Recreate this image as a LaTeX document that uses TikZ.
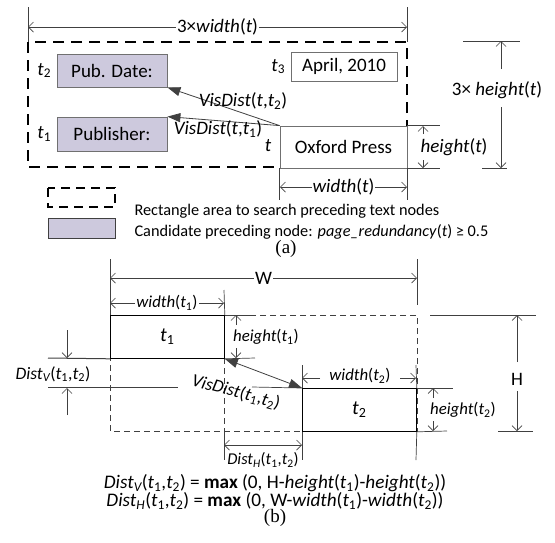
\documentclass[tikz,border=0pt]{standalone}
\usepackage{fontspec}
\setmainfont{Carlito}
\newfontfamily\captionfont{Liberation Serif}
\usetikzlibrary{arrows.meta}

\definecolor{lineColour}{HTML}{404040}
\definecolor{borderColour}{HTML}{707070}
\definecolor{fillColour}{HTML}{CDC9DD}

\newcommand{\tn}[1]{\textit{t}\textsubscript{#1}}

\tikzset{
  dim/.style={draw=lineColour, line width=0.7pt},
  dimarrow/.style={dim, {Straight Barb[length=5pt,width=10pt]}-{Straight Barb[length=5pt,width=10pt]}},
  dimtip/.style={dim, -{Straight Barb[length=5pt,width=10pt]}},
  dimlabel/.style={fill=white, inner sep=1pt},
  searchrect/.style={draw=black, line width=1.6pt, dash pattern=on 11pt off 7pt},
  arearect/.style={draw=lineColour, line width=0.7pt, dash pattern=on 6pt off 4pt},
  textbox/.style={draw=borderColour, line width=0.8pt, inner sep=0pt, fill=white},
  candidate/.style={textbox, fill=fillColour},
  plainbox/.style={draw=black, line width=0.8pt, inner sep=0pt},
  visarrow/.style={draw=lineColour, line width=0.8pt, -{Triangle[length=13pt,width=9pt]}},
  visboth/.style={draw=lineColour, line width=0.8pt, {Triangle[length=13pt,width=9pt]}-{Triangle[length=13pt,width=9pt]}},
}

\begin{document}
\begin{tikzpicture}[x=1pt, y=-1pt, font=\fontsize{19}{21}\selectfont]
    \useasboundingbox (0,0) rectangle (555,542);

    % ---------- (a) ----------
    % Search area: 3 x width by 3 x height
    \draw[searchrect] (28,42) rectangle (407,167);

    \node[candidate, minimum width=110pt, minimum height=33pt] (date) at (112,70.5) {Pub. Date:};
    \node[candidate, minimum width=110pt, minimum height=34pt] (publisher) at (112,134) {Publisher:};
    \node[textbox, minimum width=106pt, minimum height=29pt] (april) at (344,66.5) {April, 2010};
    \node[textbox, minimum width=127pt, minimum height=42pt] (oxford) at (343.5,147) {Oxford Press};

    \node[left=2pt] at (date.west) {\tn{2}};
    \node[left=2pt] at (publisher.west) {\tn{1}};
    \node[left=2pt] at (april.west) {\tn{3}};
    \node at (268,146) {\textit{t}};

    \draw[visarrow] (oxford.north west) -- (date.south east);
    \draw[visarrow] (oxford.north west) -- (publisher.north east);
    \node at (243,101) {\textit{VisDist}(\textit{t},\tn{2})};
    \node at (218,129) {\textit{VisDist}(\textit{t},\tn{1})};

    % 3 x width(t)
    \coordinate (wl) at (28,27);
    \coordinate (wr) at (407,27);
    \draw[dim] (28,7) -- (28,42);
    \draw[dim] (407,7) -- (407,42);
    \draw[dimarrow] (wl) -- node[dimlabel] {3×\textit{width}(\textit{t})} (wr);

    % width(t)
    \draw[dim] (oxford.south west) -- ++(0,32);
    \draw[dim] (oxford.south east) -- ++(0,32);
    \coordinate (owl) at (280,187);
    \coordinate (owr) at (407,187);
    \draw[dimarrow] (owl) -- node[dimlabel] {\textit{width}(\textit{t})} (owr);

    % height(t)
    \draw[dim] (oxford.north east) -- ++(33,0);
    \draw[dim] (oxford.south east) -- ++(33,0);
    \node (oh) at (454,147) {\textit{height}(\textit{t})};
    \draw[dimtip] (423,134) -- (423,126);
    \draw[dimtip] (423,160) -- (423,168);

    % 3 x height(t)
    \draw[dim] (463,41) -- (520,41);
    \draw[dim] (482,168) -- (507,168);
    \node (th) at (497,90) {3× \textit{height}(\textit{t})};
    \draw[dimtip] (501,69) -- (501,41);
    \draw[dimtip] (501,107) -- (501,168);

    % Legend
    \draw[searchrect, line width=1.3pt, dash pattern=on 9pt off 6pt] (48,188) rectangle (115,207);
    \draw[draw=black!75, line width=0.8pt, fill=fillColour] (48,218) rectangle (115,238);
    \node[anchor=west, font=\fontsize{16.3}{18}\selectfont] at (131,211) {Rectangle area to search preceding text nodes};
    \node[anchor=west, font=\fontsize{16.3}{18}\selectfont] at (131,232) {Candidate preceding node: \textit{page\_redundancy}(\textit{t}) ≥ 0.5};
    \node[font=\captionfont\fontsize{19}{21}\selectfont] at (286,249) {(a)};

    % ---------- (b) ----------
    \begin{scope}[font=\fontsize{16.8}{18}\selectfont]
    % Area spanned by both nodes
    \draw[arearect] (110,315) rectangle (417,431);
    \draw[arearect] (224,358) -- (224,431);

    \node[plainbox, fill=white, minimum width=114pt, minimum height=43pt, anchor=north west,
          font=\fontsize{20}{22}\selectfont] (t1) at (110,315) {\tn{1}};
    \node[plainbox, fill=white, minimum width=114pt, minimum height=43pt, anchor=north west,
          font=\fontsize{20}{22}\selectfont] (t2) at (302,388) {\tn{2}};

    % W
    \draw[dim] (110,259) -- (t1.north west);
    \draw[dim] (417,259) -- (417,305);
    \coordinate (Wl) at (110,278);
    \coordinate (Wr) at (417,278);
    \draw[dimarrow] (Wl) -- node[dimlabel, font=\fontsize{19}{21}\selectfont] {W} (Wr);

    % width(t1)
    \draw[dim] (224,290) -- (t1.north east);
    \coordinate (w1l) at (110,303);
    \coordinate (w1r) at (224,303);
    \draw[dimarrow] (w1l) -- node[dimlabel] {\textit{width}(\tn{1})} (w1r);

    % height(t1)
    \draw[dim] (t1.north east) -- (255,315);
    \draw[dim] (t1.south east) -- (255,358);
    \node at (266,337) {\textit{height}(\tn{1})};
    \draw[dimtip] (236,325) -- (236,315);
    \draw[dimtip] (236,348) -- (236,358);

    % Dist_V
    \draw[dim, line width=1pt] (48,358) -- (t1.south west);
    \draw[dim] (48,387) -- (178,387);
    \draw[dim] (252,387) -- (t2.north west);
    \node[font=\fontsize{17.5}{19}\selectfont] at (53,374) {\textit{Dist\textsubscript{V}}(\tn{1},\tn{2})};
    \draw[dimtip] (67,330) -- (67,358);
    \draw[dimtip] (67,415) -- (67,388);

    % VisDist(t1,t2)
    \draw[visboth] (t1.south east) -- (t2.north west);
    \node[rotate=-15, font=\fontsize{18}{20}\selectfont] at (236,392) {\textit{VisDist}(\tn{1},\tn{2})};

    % width(t2)
    \draw[dim] (302,365) -- (t2.north west);
    \draw[dim] (416,365) -- (t2.north east);
    \node at (360,376) {\textit{width}(\tn{2})};
    \draw[dimtip] (320,378) -- (302,378);
    \draw[dimtip] (400,378) -- (416,378);

    % height(t2)
    \draw[dim] (t2.north east) -- (453,388);
    \draw[dim] (t2.south east) -- (447,431);
    \node at (463,410) {\textit{height}(\tn{2})};
    \draw[dimtip] (433,398) -- (433,388);
    \draw[dimtip] (433,421) -- (433,431);

    % H
    \draw[dim] (430,315) -- (536,315);
    \draw[dim] (498,431) -- (533,431);
    \node[font=\fontsize{19}{21}\selectfont] at (517,379) {H};
    \draw[dimtip] (517,362) -- (517,315);
    \draw[dimtip] (517,391) -- (517,431);

    % Dist_H
    \draw[dim] (224,431) -- (224,460);
    \draw[dim] (t2.south west) -- (302,460);
    \draw[dim] (t2.south east) -- (416,460);
    \coordinate (dhl) at (224,445);
    \coordinate (dhr) at (302,445);
    \draw[dimarrow] (dhl) -- (dhr);
    \node[font=\fontsize{16.5}{18}\selectfont] at (263,460) {\textit{Dist\textsubscript{H}}(\tn{1},\tn{2})};

    % Formulas
    \node[font=\fontsize{19.2}{21}\selectfont] at (275,483) {\textit{Dist\textsubscript{V}}(\tn{1},\tn{2}) = \textbf{max} (0, H-\textit{height}(\tn{1})-\textit{height}(\tn{2}))};
    \node[font=\fontsize{19.2}{21}\selectfont] at (275,501) {\textit{Dist\textsubscript{H}}(\tn{1},\tn{2}) = \textbf{max} (0, W-\textit{width}(\tn{1})-\textit{width}(\tn{2}))};
    \end{scope}
    \node[font=\captionfont\fontsize{19}{21}\selectfont] at (275,518) {(b)};

\end{tikzpicture}
\end{document}
